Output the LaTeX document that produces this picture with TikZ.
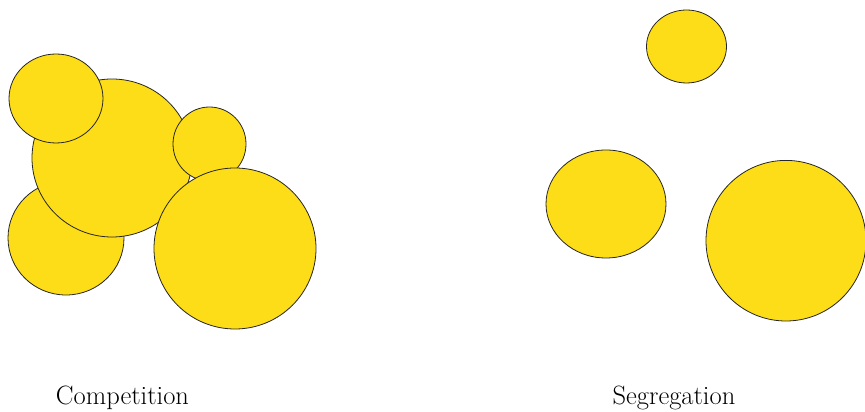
\documentclass[tikz,border=0pt]{standalone}
\definecolor{cellyellow}{RGB}{253,221,23}

\begin{document}
\begin{tikzpicture}[
    x=1pt, y=1pt,
    blob/.style={draw=black!85, fill=cellyellow, line width=0.8pt},
    caption/.style={anchor=base, font=\fontsize{26.5}{30}\selectfont}
]
\useasboundingbox (0,0) rectangle (865,412);

% Competition (overlapping cells)
\draw[blob] (66,174) ellipse [x radius=58pt, y radius=57pt];
\draw[blob] (112,254) ellipse [x radius=80pt, y radius=79pt];
\draw[blob] (56,313.5) ellipse [x radius=47pt, y radius=44.5pt];
\draw[blob] (209.5,268) ellipse [x radius=36.5pt, y radius=37pt];
\draw[blob] (235,163.5) ellipse [x radius=81pt, y radius=80.5pt];

% Segregation (separate cells)
\draw[blob] (686.5,365.5) ellipse [x radius=40pt, y radius=36.5pt];
\draw[blob] (606,208) ellipse [x radius=60pt, y radius=54pt];
\draw[blob] (786,171.3) ellipse [x radius=80pt, y radius=80.3pt];

% Labels
\node[caption] (competition) at (122.5,7) {Competition};
\node[caption] (segregation) at (674,7) {Segregation};

\end{tikzpicture}
\end{document}
